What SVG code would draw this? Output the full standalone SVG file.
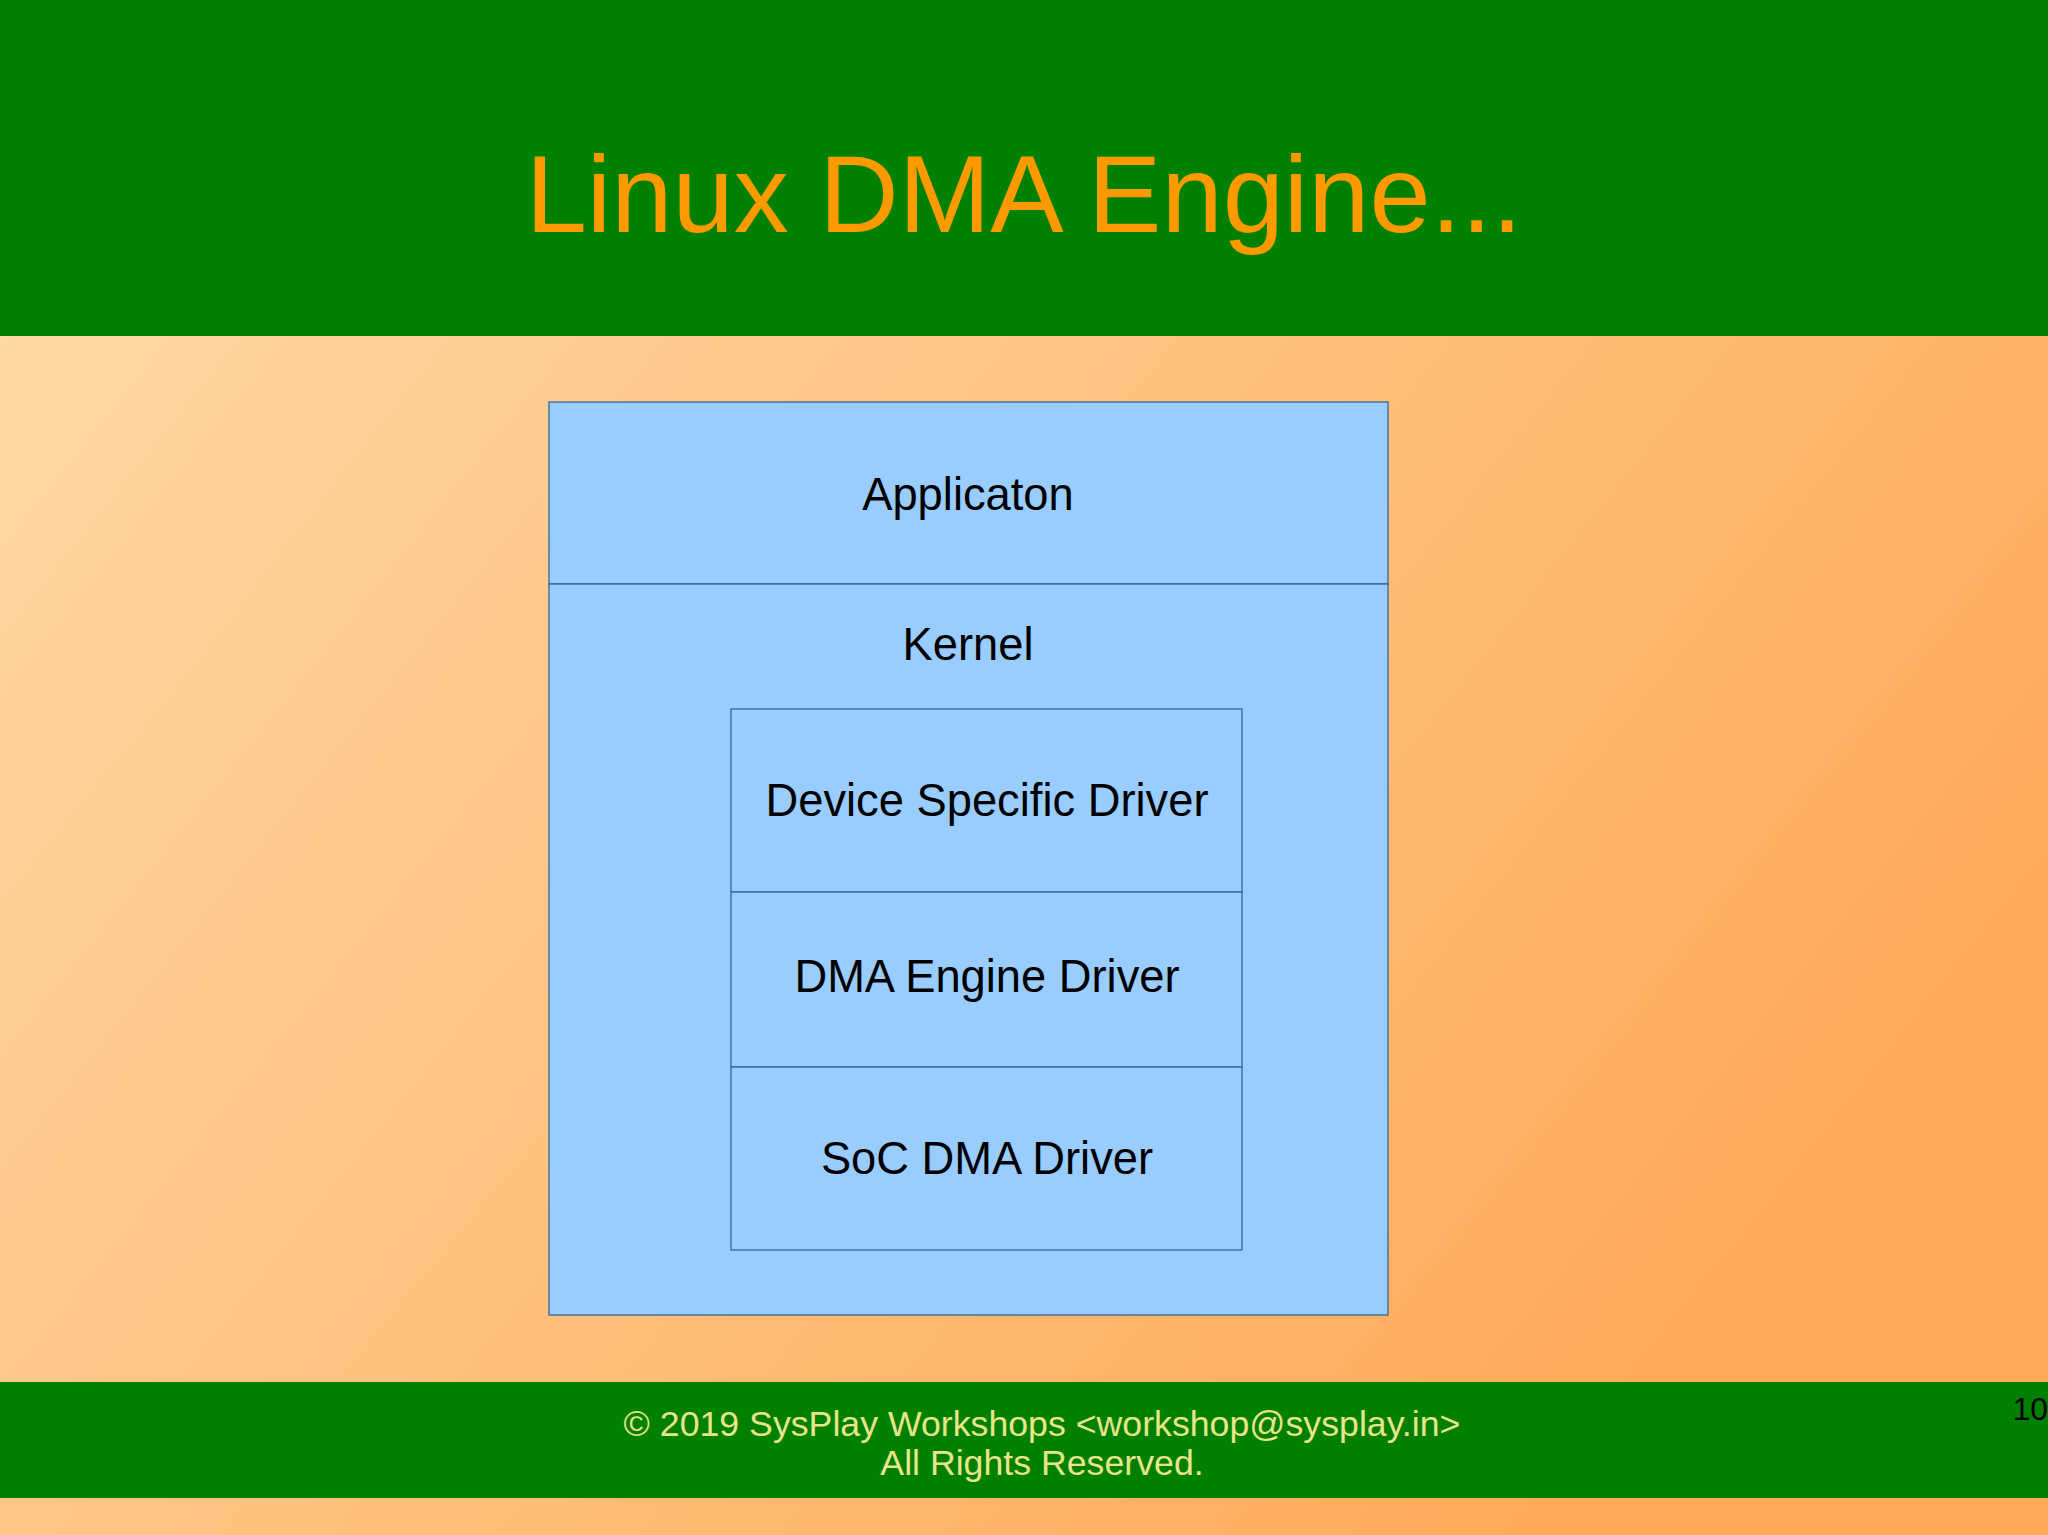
<svg xmlns="http://www.w3.org/2000/svg" width="2048" height="1535" viewBox="0 0 2048 1535">
<defs>
<linearGradient id="bg" x1="0" y1="0" x2="1" y2="0.6">
<stop offset="0" stop-color="#ffdcaa"/>
<stop offset="1" stop-color="#ffaa58"/>
</linearGradient>
<style>
.box{fill:#99ccff;stroke:#336699;stroke-width:1.3}
.t{font-family:"Liberation Sans",Arial,sans-serif;font-size:45.3px;fill:#000;text-anchor:middle}
.f{font-family:"Liberation Sans",Arial,sans-serif;font-size:35.7px;fill:#e8e48a;text-anchor:middle}
</style>
</defs>
<rect width="2048" height="1535" fill="url(#bg)"/>
<rect width="2048" height="336" fill="#008000"/>
<text x="1024" y="232" font-family="Liberation Sans,Arial,sans-serif" font-size="110" fill="#ff9900" text-anchor="middle">Linux DMA Engine...</text>
<g id="application"><rect class="box" x="549" y="402" width="839" height="182"/><text class="t" x="968" y="510">Applicaton</text></g>
<g id="kernel"><rect class="box" x="549" y="584" width="839" height="731"/><text class="t" x="968" y="660">Kernel</text></g>
<g id="device-driver"><rect class="box" x="731" y="709" width="511" height="183"/><text class="t" x="987" y="816">Device Specific Driver</text></g>
<g id="dma-engine-driver"><rect class="box" x="731" y="892" width="511" height="175"/><text class="t" x="987" y="992">DMA Engine Driver</text></g>
<g id="soc-dma-driver"><rect class="box" x="731" y="1067" width="511" height="183"/><text class="t" x="987" y="1174">SoC DMA Driver</text></g>
<g id="connectors"></g>
<rect y="1382" width="2048" height="116" fill="#008000"/>
<text class="f" x="1042" y="1436">© 2019 SysPlay Workshops &lt;workshop@sysplay.in&gt;</text>
<text class="f" x="1042" y="1475">All Rights Reserved.</text>
<text x="2048" y="1420" font-family="Liberation Sans,Arial,sans-serif" font-size="32" fill="#000" text-anchor="end">10</text>
</svg>
